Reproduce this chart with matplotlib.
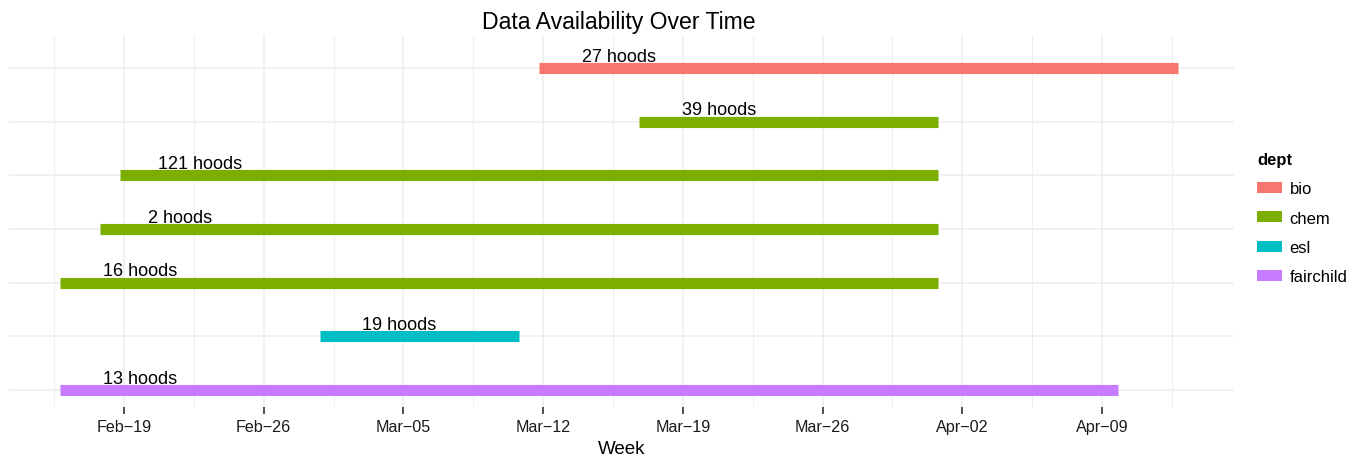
import numpy as np
import matplotlib
matplotlib.use("Agg")
import matplotlib.pyplot as plt
import matplotlib.dates as mdates
from matplotlib.patches import Patch

plt.rcParams["font.family"] = ["Liberation Sans", "DejaVu Sans"]

# ── Data (rows listed top to bottom) ─────────────────────────────────────────
DEPTS  = ["bio", "chem", "chem", "chem", "chem", "esl", "fairchild"]
HOODS  = [27, 39, 121, 2, 16, 19, 13]
STARTS = ["2015-03-11 19:12", "2015-03-16 19:12", "2015-02-18 19:12",
          "2015-02-17 19:12", "2015-02-15 19:12", "2015-02-28 19:12",
          "2015-02-15 19:12"]
ENDS   = ["2015-04-12 19:12", "2015-03-31 19:12", "2015-03-31 19:12",
          "2015-03-31 19:12", "2015-03-31 19:12", "2015-03-10 19:12",
          "2015-04-09 19:12"]

TICK_DATES  = ["2015-02-19", "2015-02-26", "2015-03-05", "2015-03-12",
               "2015-03-19", "2015-03-26", "2015-04-02", "2015-04-09"]
TICK_LABELS = ["Feb\u221219", "Feb\u221226", "Mar\u221205", "Mar\u221212",
               "Mar\u221219", "Mar\u221226", "Apr\u221202", "Apr\u221209"]
XLIM = ["2015-02-13 05:45", "2015-04-15 14:40"]

LEGEND_DEPTS = ["bio", "chem", "esl", "fairchild"]
COLORS = {"bio": "#F8766D", "chem": "#7CAE00", "esl": "#00BFC4",
          "fairchild": "#C77CFF"}

LABEL_DX = 4.0    # days right of segment start
LABEL_DY = 0.3    # above the segment
GRID = "#EEEEEE"

# ── Plot ──────────────────────────────────────────────────────────────────────
fig = plt.figure(figsize=(13.62, 4.56), dpi=100)
ax = fig.add_axes([9 / 1362, 1 - 408 / 456, 1225 / 1362, 372 / 456])

starts = mdates.datestr2num(STARTS)
ends   = mdates.datestr2num(ENDS)
n      = len(DEPTS)
ys     = np.arange(n, 0, -1)

for y, s, e, d, h in zip(ys, starts, ends, DEPTS, HOODS):
    ax.plot([s, e], [y, y], color=COLORS[d], lw=8, solid_capstyle="butt",
            zorder=3)
    ax.annotate(f"{h} hoods", (s + LABEL_DX, y + LABEL_DY),
                xytext=(0, -3), textcoords="offset points",
                ha="center", va="center", fontsize=13, color="black",
                zorder=4)

ax.set_xlim(*mdates.datestr2num(XLIM))
ylo, yhi = 1, n + LABEL_DY
ypad = (yhi - ylo) * 0.05
ax.set_ylim(ylo - ypad, yhi + ypad)

ticks = mdates.datestr2num(TICK_DATES)
ax.set_xticks(ticks)
ax.set_xticklabels(TICK_LABELS, fontsize=11.6, color="#1a1a1a")
minor = np.concatenate([ticks - 3.5, [ticks[-1] + 3.5]])
ax.set_xticks(minor, minor=True)
ax.set_yticks(ys)
ax.set_yticklabels([])

ax.tick_params(axis="x", which="major", length=5, width=1.2,
               color="#333333", pad=4)
ax.tick_params(axis="x", which="minor", length=0)
ax.tick_params(axis="y", length=0)

ax.grid(True, which="major", color=GRID, lw=1.1, zorder=0)
ax.grid(True, which="minor", axis="x", color=GRID, lw=0.7, zorder=0)
ax.set_axisbelow(True)
for sp in ax.spines.values():
    sp.set_visible(False)

ax.set_xlabel("Week", fontsize=13.5, labelpad=4)
fig.text(619 / 1362, 1 - 29.5 / 456, "Data Availability Over Time",
         ha="center", va="baseline", fontsize=16.6)

handles = [Patch(facecolor=COLORS[d], edgecolor="none", label=d)
           for d in LEGEND_DEPTS]
leg = fig.legend(handles=handles, title="dept", loc="upper left",
                 bbox_to_anchor=(1257 / 1362, 1 - 153 / 456),
                 frameon=False, fontsize=12, handlelength=1.5,
                 handleheight=0.62, handletextpad=0.45, labelspacing=0.86,
                 borderpad=0, borderaxespad=0, alignment="left",
                 title_fontproperties={"weight": "bold", "size": 12})

fig.savefig("out.png", dpi=100)
